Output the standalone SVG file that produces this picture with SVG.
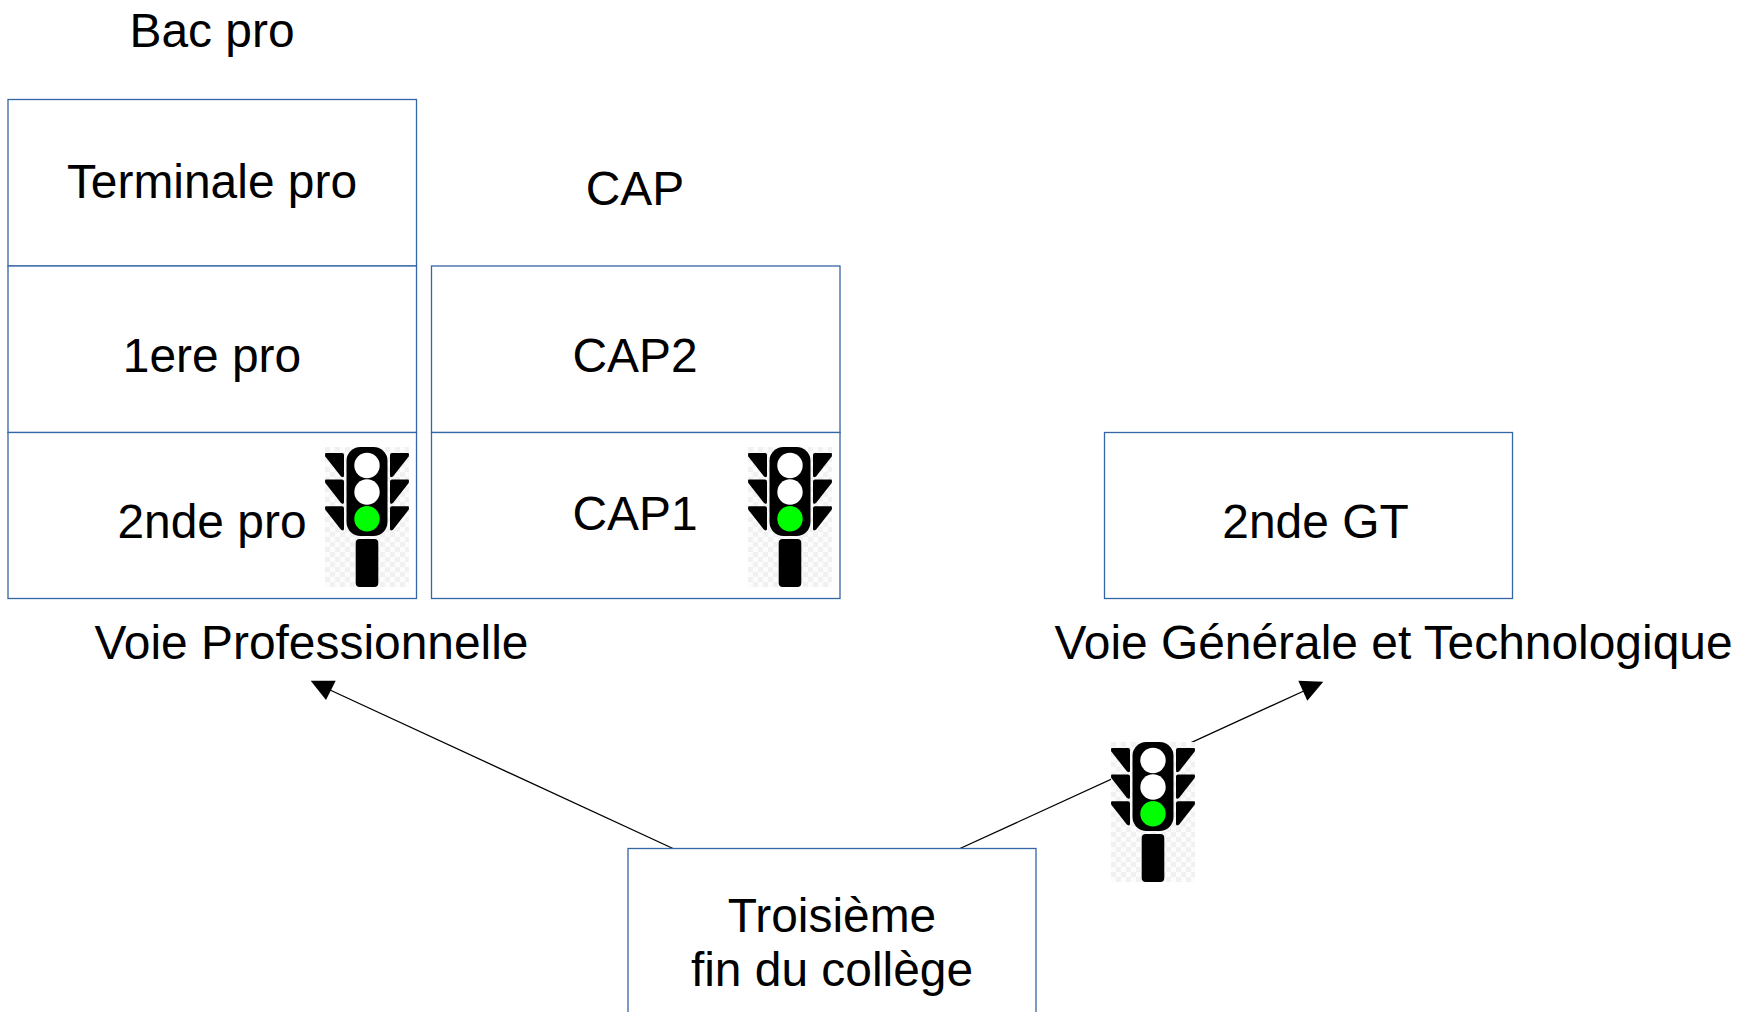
<svg xmlns="http://www.w3.org/2000/svg" width="1737" height="1012" viewBox="0 0 1737 1012">
<style>
.box{fill:#fff;stroke:#3465a4;stroke-width:1.3}
.t{font-family:"Liberation Sans",Arial,sans-serif;font-size:47.9px;fill:#000;text-anchor:middle}
.ln{fill:none;stroke:#000;stroke-width:1.3}
.ah{fill:#000}
</style>
<defs>
<pattern id="chk" width="10" height="10" patternUnits="userSpaceOnUse">
<rect width="10" height="10" fill="#fcfcfc"/>
<rect width="5" height="5" fill="#f1f1f1"/>
<rect x="5" y="5" width="5" height="5" fill="#f1f1f1"/>
</pattern>
<path id="tr" fill="#000" d="M1,6 H17 Q19,6 19,8 V28.5 Q19,31.5 16,29.5 L0.3,9.5 Q-0.5,6 1,6Z"/>
<symbol id="light" width="84" height="140" viewBox="0 0 84 140">
<rect width="84" height="140" fill="url(#chk)"/>
<use href="#tr"/>
<use href="#tr" y="26.6"/>
<use href="#tr" y="53.2"/>
<g transform="translate(84,0) scale(-1,1)">
<use href="#tr"/>
<use href="#tr" y="26.6"/>
<use href="#tr" y="53.2"/>
</g>
<rect x="21.5" y="0" width="41" height="89" rx="14" fill="#000"/>
<circle cx="42" cy="18.5" r="12.7" fill="#fff"/>
<circle cx="42" cy="45" r="12.7" fill="#fff"/>
<circle cx="42" cy="71.7" r="12.7" fill="#00ff00"/>
<rect x="30.7" y="92" width="22.6" height="48" rx="4" fill="#000"/>
</symbol>
</defs>
<rect width="1737" height="1012" fill="#fff"/>
<g id="connectors">
<line class="ln" x1="673" y1="848.5" x2="330" y2="690"/>
<polygon class="ah" points="310.7,680.7 335.7,680.7 326,700"/>
<line class="ln" x1="960" y1="848.5" x2="1306" y2="690"/>
<polygon class="ah" points="1298.3,680.7 1323.3,681.7 1307.3,700.7"/>
</g>
<g id="label-bacpro"><text class="t" x="212" y="47">Bac pro</text></g>
<g id="label-cap"><text class="t" x="635" y="205">CAP</text></g>
<g id="terminale-pro"><rect class="box" x="8" y="99.5" width="408.5" height="166.5"/><text class="t" x="212" y="198">Terminale pro</text></g>
<g id="premiere-pro"><rect class="box" x="8" y="266" width="408.5" height="166.5"/><text class="t" x="212" y="372">1ere pro</text></g>
<g id="seconde-pro"><rect class="box" x="8" y="432.5" width="408.5" height="166"/><text class="t" x="212" y="538">2nde pro</text><use href="#light" x="325" y="447"/></g>
<g id="cap2"><rect class="box" x="431.5" y="266" width="408.5" height="166.5"/><text class="t" x="635" y="372">CAP2</text></g>
<g id="cap1"><rect class="box" x="431.5" y="432.5" width="408.5" height="166"/><text class="t" x="635" y="530">CAP1</text><use href="#light" x="748" y="447"/></g>
<g id="seconde-gt"><rect class="box" x="1104.5" y="432.5" width="408" height="166"/><text class="t" x="1315.5" y="538">2nde GT</text></g>
<g id="label-voie-pro"><text class="t" x="311.5" y="659">Voie Professionnelle</text></g>
<g id="label-voie-gt"><text class="t" x="1393.5" y="659">Voie Générale et Technologique</text></g>
<g id="light-gt"><use href="#light" x="1111" y="742"/></g>
<g id="troisieme"><rect class="box" x="628" y="848.5" width="408" height="180"/><text class="t" x="832" y="932">Troisième</text><text class="t" x="832" y="986">fin du collège</text></g>
</svg>
